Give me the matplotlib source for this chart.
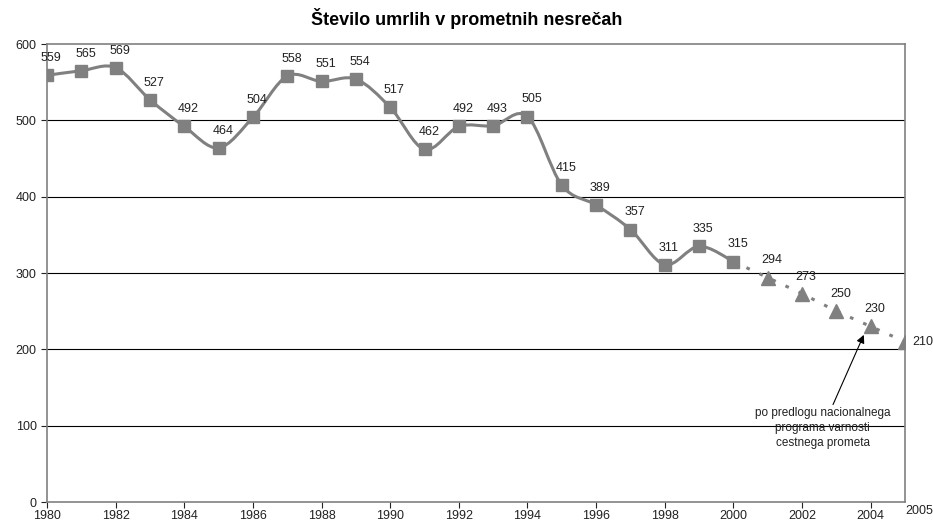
import numpy as np
import matplotlib.pyplot as plt
from matplotlib.path import Path
from matplotlib.patches import PathPatch

plt.rcParams['font.family'] = ['Liberation Sans', 'DejaVu Sans']

years = list(range(1980, 2001))
deaths = [559, 565, 569, 527, 492, 464, 504, 558, 551, 554, 517,
          462, 492, 493, 505, 415, 389, 357, 311, 335, 315]
plan_years = [2001, 2002, 2003, 2004, 2005]
plan_deaths = [294, 273, 250, 230, 210]
xticks = list(range(1980, 2005, 2))
yticks = [0, 100, 200, 300, 400, 500, 600]
title = "Število umrlih v prometnih nesrečah"
note = "po predlogu nacionalnega\nprograma varnosti\ncestnega prometa"

grey = '#808080'
txt = '#222222'


def smooth_path(x, y):
    # Catmull-Rom -> cubic Bezier, like Excel's smoothed line
    x = np.asarray(x, float)
    y = np.asarray(y, float)
    verts = [(x[0], y[0])]
    codes = [Path.MOVETO]
    n = len(x)
    for i in range(n - 1):
        p0 = (x[max(i - 1, 0)], y[max(i - 1, 0)])
        p1 = (x[i], y[i])
        p2 = (x[i + 1], y[i + 1])
        p3 = (x[min(i + 2, n - 1)], y[min(i + 2, n - 1)])
        c1 = (p1[0] + (p2[0] - p0[0]) / 6, p1[1] + (p2[1] - p0[1]) / 6)
        c2 = (p2[0] - (p3[0] - p1[0]) / 6, p2[1] - (p3[1] - p1[1]) / 6)
        verts += [c1, c2, p2]
        codes += [Path.CURVE4] * 3
    return Path(verts, codes)


fig = plt.figure(figsize=(9.33, 5.26), dpi=100)
ax = fig.add_axes([0.0504, 0.0456, 0.9196, 0.8707])

for v in yticks[1:-1]:
    ax.axhline(v, color='black', lw=0.8, zorder=1)

ax.add_patch(PathPatch(smooth_path(years, deaths), fill=False,
                       edgecolor=grey, lw=2.2, zorder=2))
ax.plot(years, deaths, ls='none', marker='s', ms=9, color=grey, zorder=3)

ax.plot([years[-1]] + plan_years, [deaths[-1]] + plan_deaths,
        color=grey, lw=2.2, ls=(0, (1.2, 3.5)), zorder=2)
ax.plot(plan_years, plan_deaths, ls='none', marker='^', ms=10,
        color=grey, zorder=3)

for x, y in zip(years + plan_years[:-1], deaths + plan_deaths[:-1]):
    ax.annotate(str(y), (x, y), xytext=(3, 8), textcoords='offset points',
                ha='center', va='bottom', fontsize=9, color=txt)
ax.annotate(str(plan_deaths[-1]), (plan_years[-1], plan_deaths[-1]),
            xytext=(5, 0), textcoords='offset points',
            ha='left', va='center', fontsize=9, color=txt)

ax.annotate(note, xy=(2003.8, 219), xytext=(2002.6, 124),
            ha='center', va='top', fontsize=8.5, color=txt,
            linespacing=1.3,
            arrowprops=dict(arrowstyle='-|>', color='black', lw=0.8,
                            shrinkA=0, shrinkB=0, mutation_scale=12))

ax.set_xlim(1980, 2005)
ax.set_ylim(0, 600)
ax.set_xticks(xticks)
ax.set_yticks(yticks)
ax.tick_params(labelsize=9, colors=txt, length=4, width=0.8)
ax.tick_params(axis='x', pad=2)
ax.text(2005.0, -4, '2005', ha='left', va='top', fontsize=9,
        color=txt, clip_on=False)
for s in ax.spines.values():
    s.set_color(grey)
    s.set_linewidth(1.2)

fig.text(0.5, 0.965, title, ha='center', va='center', fontsize=13,
         fontweight='bold')

fig.savefig('out.png', dpi=100)
